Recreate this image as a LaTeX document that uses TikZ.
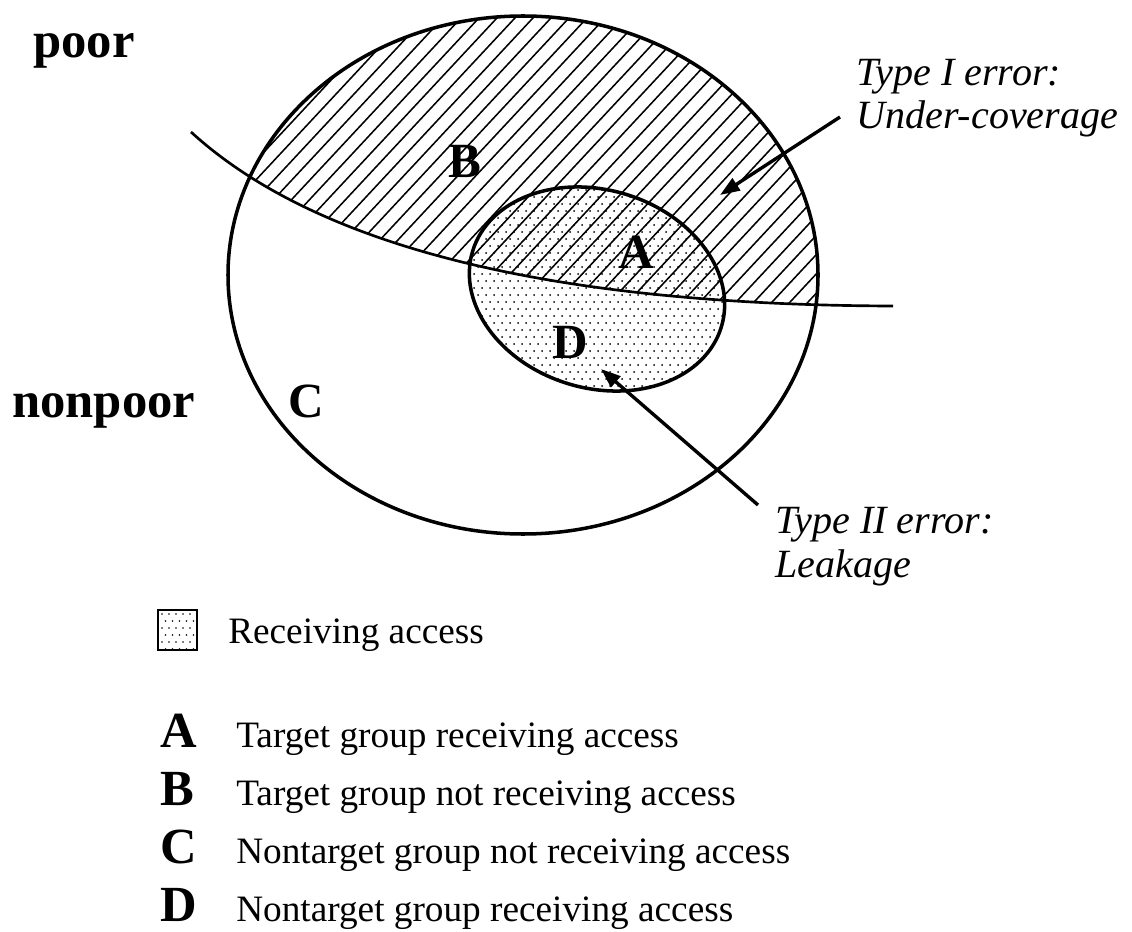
\documentclass[tikz,border=0pt]{standalone}
\usepackage{fontspec}
\setmainfont{Liberation Serif}
\usetikzlibrary{arrows.meta}

\begin{document}
\begin{tikzpicture}[x=0.025cm, y=-0.025cm,
    rim/.style={line width=2.5pt},
    divide/.style={line width=1.9pt},
    hatchline/.style={line width=1.1pt},
    ptr/.style={line width=2.4pt, -{Triangle[length=14pt, width=10pt]}},
    side/.style={font=\fontsize{36}{40}\selectfont\bfseries, inner sep=0pt, anchor=base west},
    region/.style={font=\fontsize{35}{40}\selectfont\bfseries, inner sep=0pt, anchor=base west},
    note/.style={font=\fontsize{28.5}{31}\selectfont\itshape, inner sep=0pt, anchor=base west, align=left},
    keytext/.style={font=\fontsize{26.5}{30}\selectfont, inner sep=0pt, anchor=base west}]
    \useasboundingbox (0,0) rectangle (1132,932);

    % Draw dotted area (receiving access)
    \begin{scope}
        \clip[rotate around={-17:(597,289)}] (597,289) ellipse [x radius=130, y radius=99];
        \foreach \j in {0,...,31}
            \foreach \i in {0,...,34}
                \fill ({462+8*\i+4*mod(\j,2)}, {183+7*\j}) circle [radius=1];
    \end{scope}

    % Draw hatching above the poverty line
    \begin{scope}
        \clip (523,275) ellipse [x radius=295, y radius=259];
        \clip (191,132) .. controls (320,250) and (560,305) .. (893,306) -- (893,0) -- (191,0) -- cycle;
        \foreach \c in {-100,-82,...,900}
            \draw[hatchline] (\c,330) -- ({\c+330/tan(47)},0);
    \end{scope}

    % Draw population, poverty line and access group
    \draw[rim] (523,275) ellipse [x radius=295, y radius=259];
    \draw[divide] (191,132) .. controls (320,250) and (560,305) .. (893,306);
    \draw[rim, rotate around={-17:(597,289)}] (597,289) ellipse [x radius=130, y radius=99];

    % Draw labels
    \node[side] (poor) at (33,58) {poor};
    \node[side] (nonpoor) at (12,417) {nonpoor};
    \node[region] (regB) at (448,178) {B};
    \node[region] (regA) at (618,268) {A};
    \node[region] (regD) at (552,358) {D};
    \node[region] (regC) at (288,417) {C};

    % Draw error callouts
    \node[note] (errI) at (856,129) {Type I error:\\Under-coverage};
    \node[note] (errII) at (775,577) {Type II error:\\Leakage};
    \coordinate (tailI) at (840,117);
    \coordinate (tipI) at (720,195);
    \coordinate (tailII) at (758,505);
    \coordinate (tipII) at (601,369);
    \draw[ptr] (tailI) -- (tipI);
    \draw[ptr] (tailII) -- (tipII);

    % Draw legend
    \begin{scope}
        \clip (158,610) rectangle (197,650);
        \foreach \j in {0,...,5}
            \foreach \i in {0,...,5}
                \fill ({162+7*\i+3.5*mod(\j,2)}, {614+7*\j}) circle [radius=0.9];
    \end{scope}
    \draw[line width=1.2pt] (158,610) rectangle (197,650);
    \node[keytext] (keyacc) at (228,643) {Receiving access};

    \node[side] (keyA) at (160,747) {A};
    \node[side] (keyB) at (160,805) {B};
    \node[side] (keyC) at (160,863) {C};
    \node[side] (keyD) at (160,921) {D};
    \node[keytext] (txtA) at (236,747) {Target group receiving access};
    \node[keytext] (txtB) at (236,805) {Target group not receiving access};
    \node[keytext] (txtC) at (236,863) {Nontarget group not receiving access};
    \node[keytext] (txtD) at (236,921) {Nontarget group receiving access};
\end{tikzpicture}
\end{document}
